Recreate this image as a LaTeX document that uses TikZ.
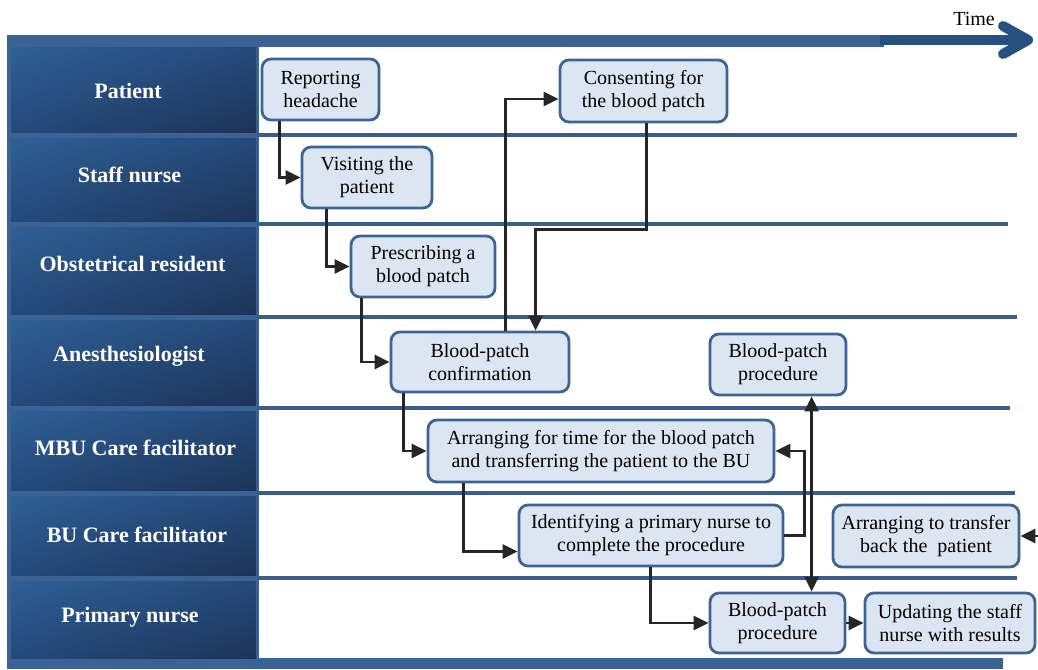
\documentclass[tikz,border=0pt]{standalone}
\usepackage{fontspec}
\setmainfont{Liberation Serif}
\usetikzlibrary{arrows.meta,calc,shadings}
\definecolor{boxfill}{HTML}{DCE6F2}
\definecolor{boxline}{HTML}{3D6497}
\definecolor{laneline}{HTML}{3A5F8F}
\definecolor{framec}{HTML}{3A6294}
\definecolor{headA}{HTML}{2F5F96}
\definecolor{headB}{HTML}{1C3459}
\definecolor{headM}{HTML}{254A7A}
\definecolor{timec}{HTML}{26507F}
\definecolor{arrowc}{HTML}{262626}

\begin{document}
\begin{tikzpicture}[x=1pt,y=-1pt,
  stepbox/.style={draw=boxline, line width=2.8pt, fill=boxfill, rounded corners=9pt,
    align=center, inner sep=0pt, font=\fontsize{20}{23}\selectfont},
  conn/.style={draw=arrowc, line width=2.4pt, -{Triangle[length=15pt,width=14pt]}},
  lane/.style={draw=laneline, line width=3.5pt},
  lanehead/.style={text=white, font=\bfseries\fontsize{22}{26}\selectfont},
]
\useasboundingbox (0,0) rectangle (1038,669);
\fill[white] (0,0) rectangle (1038,669);

% frame of the swimlane table
\fill[framec] (7,35) rectangle (259,669);
\fill[framec] (7,35) rectangle (884,47);
\fill[framec] (7,658) rectangle (1003,669);

% time axis
\draw[timec, line width=10pt] (880,40) -- (1022,40);
\draw[timec, line width=10pt, line cap=round, line join=round] (1003,26) -- (1028,40) -- (1003,54);
\node[font=\fontsize{20}{24}\selectfont, anchor=base] (time) at (974,26) {Time};

% lane headers
\foreach \top/\bot/\cx/\cy/\name [count=\i] in {48/132/128/91/Patient,
    138/221/129.5/175/Staff nurse,
    227/314/132.5/264/Obstetrical resident, 320/405/129/356/Anesthesiologist,
    411/490/135.5/448/MBU Care facilitator, 496/575/137/535/BU Care facilitator,
    581/658/130/617/Primary nurse} {
  \shade[upper left=headA, lower right=headB, upper right=headM, lower left=headM]
    (11,\top) rectangle (256,\bot);
  \node[lanehead] (h\i) at (\cx,\cy) {\name};
}

% lane separators
\draw[lane] (257,135) -- (1017,135);
\draw[lane] (257,224) -- (1008,224);
\draw[lane] (257,317) -- (1017,317);
\draw[lane] (257,408) -- (1010,408);
\draw[lane] (257,493) -- (1015,493);
\draw[lane] (257,578) -- (1017,578);

% activities
\node[stepbox, minimum width=117pt, minimum height=61pt] (rep)   at (320.5,89.5) {Reporting\\headache};
\node[stepbox, minimum width=167pt, minimum height=62pt] (cons)  at (643.5,91) {Consenting for\\the blood patch};
\node[stepbox, minimum width=130pt, minimum height=61pt] (vis)   at (367,177.5) {Visiting the\\patient};
\node[stepbox, minimum width=144pt, minimum height=61pt] (pres)  at (423,266.5) {Prescribing a\\blood patch};
\node[stepbox, minimum width=178pt, minimum height=60pt] (conf)  at (480,362) {Blood-patch\\confirmation};
\node[stepbox, minimum width=136pt, minimum height=61pt] (bpa)   at (778,364.5) {Blood-patch\\procedure};
\node[stepbox, minimum width=346pt, minimum height=62pt] (arr)   at (601,451) {Arranging for time for the blood patch\\and transferring the patient to the BU};
\node[stepbox, minimum width=264pt, minimum height=61pt] (ident) at (651,535.5) {Identifying a primary nurse to\\complete the procedure};
\node[stepbox, minimum width=186pt, minimum height=62pt] (trans) at (926,536) {Arranging to transfer\\back the\ \ patient};
\node[stepbox, minimum width=135pt, minimum height=60pt] (bpp)   at (777.5,623) {Blood-patch\\procedure};
\node[stepbox, minimum width=170pt, minimum height=60pt] (upd)   at (950,623) {Updating the staff\\nurse with results};

\coordinate (inflow) at (1038,536);

% flow
\draw[conn] ($(rep.south west)+(19,0)$) |- (vis.west);
\draw[conn] ($(vis.south west)+(26,0)$) |- (pres.west);
\draw[conn] ($(pres.south west)+(12,0)$) |- (conf.west);
\draw[conn] ($(conf.north west)+(116,0)$) |- ($(cons.west)+(0,8)$);
\draw[conn] ($(cons.south west)+(88,0)$) -- ++(0,106) -| ($(conf.north west)+(146,0)$);
\draw[conn] ($(conf.south west)+(14,0)$) |- (arr.west);
\draw[conn] ($(arr.south west)+(37,0)$) |- ($(ident.west)+(0,16)$);
\draw[conn] (ident.east) -- ++(20,0) |- (arr.east);
\draw[conn] ($(ident.south west)+(133,0)$) |- (bpp.west);
\draw[conn, {Triangle[length=15pt,width=14pt]}-{Triangle[length=15pt,width=14pt]}]
  ($(bpp.north west)+(103,0)$) -- ($(bpa.south west)+(103,0)$);
\draw[conn] (bpp.east) -- (upd.west);
\draw[conn] (inflow) -- (trans.east);
\end{tikzpicture}
\end{document}
